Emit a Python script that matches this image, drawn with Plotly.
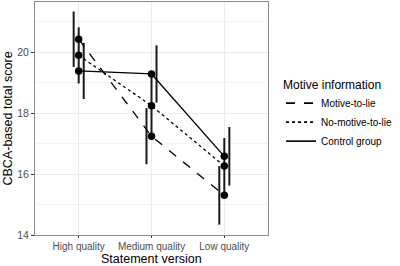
import plotly.graph_objects as go

categories = ["High quality", "Medium quality", "Low quality"]
groups = ["Motive-to-lie", "No-motive-to-lie", "Control group"]
means = {
    "Motive-to-lie": [20.42, 17.24, 15.30],
    "No-motive-to-lie": [19.89, 18.24, 16.26],
    "Control group": [19.38, 19.28, 16.58],
}
err = {
    "Motive-to-lie": [0.91, 0.92, 0.96],
    "No-motive-to-lie": [0.92, 1.04, 0.92],
    "Control group": [0.92, 0.94, 0.96],
}
dashes = {"Motive-to-lie": "dash", "No-motive-to-lie": "dot", "Control group": "solid"}
dodge = {"Motive-to-lie": -0.069, "No-motive-to-lie": 0.0, "Control group": 0.069}

xpos = [1, 2, 3]
fig = go.Figure()

for g in groups:
    fig.add_trace(go.Scatter(
        x=[x + dodge[g] for x in xpos], y=means[g], mode="markers",
        marker=dict(size=1, color="rgba(0,0,0,0)"),
        error_y=dict(type="data", array=err[g], visible=True, thickness=2,
                     width=0, color="#1a1a1a"),
        showlegend=False, hoverinfo="skip"))

for g in groups:
    fig.add_trace(go.Scatter(
        x=xpos, y=means[g], mode="lines+markers", name=g,
        line=dict(color="black", width=1.3, dash=dashes[g]),
        marker=dict(size=7.5, color="black"), showlegend=False))
    fig.add_trace(go.Scatter(
        x=[None], y=[None], mode="lines", name=g,
        line=dict(color="black", width=1.6, dash=dashes[g])))

font = "Liberation Sans, Arial, sans-serif"
fig.update_layout(
    width=400, height=266,
    margin=dict(l=35, r=132, t=2, b=31, autoexpand=False),
    plot_bgcolor="white", paper_bgcolor="white",
    font=dict(family=font, color="black"),
    showlegend=True,
    legend=dict(
        title=dict(text="Motive information", font=dict(size=12, color="black")),
        x=1.056, y=0.517, xanchor="left", yanchor="middle",
        font=dict(size=10, color="black"),
        itemwidth=30,
        bgcolor="rgba(0,0,0,0)"),
    xaxis=dict(
        range=[0.4, 3.6], tickmode="array", tickvals=xpos, ticktext=categories,
        showgrid=True, gridcolor="#EBEBEB", gridwidth=1.2, automargin=False,
        zeroline=False, showline=True, linecolor="#8c8c8c", linewidth=1, mirror=True,
        ticks="outside", ticklen=2, tickcolor="#333333",
        tickfont=dict(size=10, color="#4D4D4D")),
    yaxis=dict(
        range=[14, 21.64], tickvals=[14, 16, 18, 20], automargin=False,
        showgrid=True, gridcolor="#EBEBEB", gridwidth=1.2,
        minor=dict(tickvals=[15, 17, 19, 21], showgrid=True, gridcolor="#F2F2F2", gridwidth=0.8),
        zeroline=False, showline=True, linecolor="#8c8c8c", linewidth=1, mirror=True,
        ticks="outside", ticklen=3, tickcolor="#333333",
        tickfont=dict(size=10.5, color="#4D4D4D")),
    annotations=[
        dict(text="Statement version", xref="paper", yref="paper", x=0.5, y=0,
             yshift=-31.5, xanchor="center", yanchor="bottom", showarrow=False,
             borderpad=0, font=dict(size=12.5, color="black")),
        dict(text="CBCA-based total score", xref="paper", yref="paper", x=0, y=0.5,
             xshift=-36, xanchor="left", yanchor="middle", textangle=-90, showarrow=False,
             borderpad=0, font=dict(size=12.5, color="black")),
    ],
)

fig.write_html("out.html", config={"displayModeBar": False},
               post_script="document.body.style.margin='0';")
